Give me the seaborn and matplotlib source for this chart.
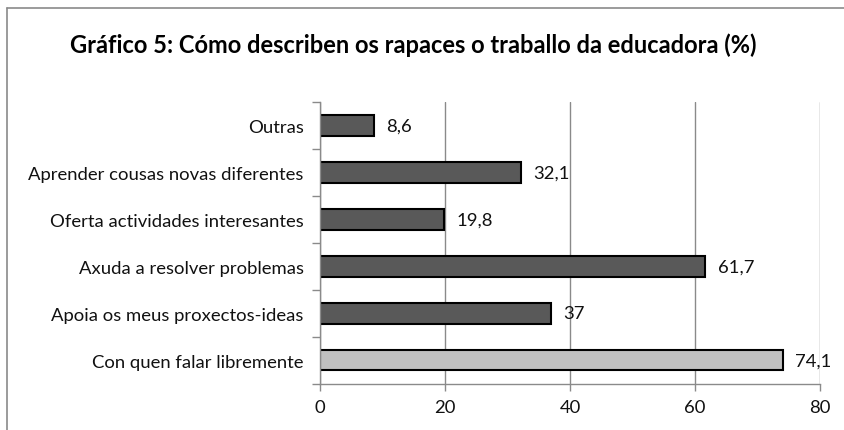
import seaborn as sns
import matplotlib.pyplot as plt
import pandas as pd
from matplotlib.lines import Line2D

# dados
categorias = ["Outras", "Aprender cousas novas diferentes", "Oferta actividades interesantes",
              "Axuda a resolver problemas", "Apoia os meus proxectos-ideas", "Con quen falar libremente"]
valores = [8.6, 32.1, 19.8, 61.7, 37.0, 74.1]
rotulos = ["8,6", "32,1", "19,8", "61,7", "37", "74,1"]
cores = ["#595959", "#595959", "#595959", "#595959", "#595959", "#c0c0c0"]
titulo = "Gráfico 5: Cómo describen os rapaces o traballo da educadora (%)"

sns.set_theme(style="white")
plt.rcParams['font.family'] = ['Lato', 'DejaVu Sans']

df = pd.DataFrame({"cat": categorias, "val": valores})

fig = plt.figure(figsize=(8.45, 4.31), dpi=100)
ax = fig.add_axes([0.379, 0.107, 0.591, 0.654])
sns.barplot(data=df, y="cat", x="val", hue="cat", palette=cores, legend=False,
            width=0.43, edgecolor="black", linewidth=1.5, ax=ax, saturation=1)

ax.set_xlim(0, 80)
ax.set_ylim(len(categorias) - 0.5, -0.5)
ax.set_xticks([0, 20, 40, 60, 80])
ax.xaxis.grid(True, color="#8a8a8a", linewidth=1)
ax.set_axisbelow(True)
ax.set_xlabel("")
ax.set_ylabel("")

# marcas do eixo y entre categorias
ax.set_yticks([i - 0.5 for i in range(len(categorias) + 1)], minor=True)
ax.tick_params(axis="y", which="major", length=0, pad=12, labelsize=13.3, labelcolor="#111111")
ax.tick_params(axis="y", which="minor", length=6, color="#8a8a8a", width=1, direction="out", left=True)
ax.tick_params(axis="x", length=5, color="#8a8a8a", width=1, bottom=True, labelsize=13.3,
               labelcolor="#111111", pad=6)

for s in ["top", "right"]:
    ax.spines[s].set_visible(False)
for s in ["left", "bottom"]:
    ax.spines[s].set_color("#8a8a8a")
    ax.spines[s].set_linewidth(1)

# rotulos com virgula decimal
for i, (v, r) in enumerate(zip(valores, rotulos)):
    ax.annotate(r, (v, i), xytext=(9, 0), textcoords="offset points",
                va="center", ha="left", fontsize=13.3, color="#111111")

fig.text(0.489, 0.895, titulo, ha="center", va="center", fontsize=17, fontweight="bold", color="black")

# moldura
fig.add_artist(Line2D([0.0083, 0.0083], [0, 0.979], color="#8a8a8a", linewidth=1.2))
fig.add_artist(Line2D([0.0083, 1], [0.979, 0.979], color="#8a8a8a", linewidth=1.2))

fig.savefig("out.png", dpi=100)
